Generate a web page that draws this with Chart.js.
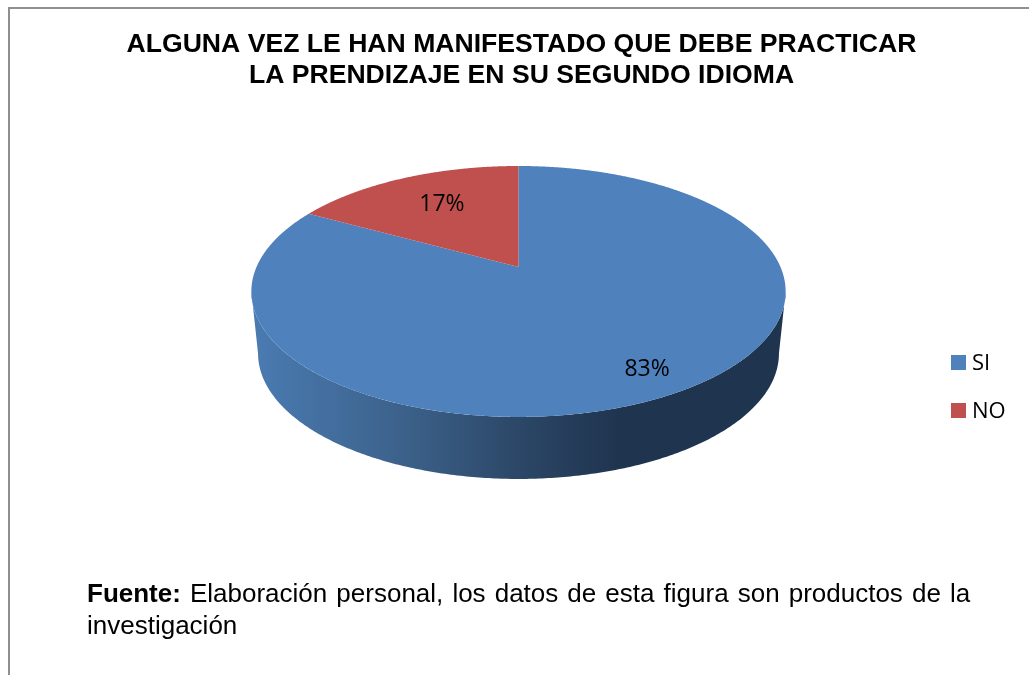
<!DOCTYPE html>
<html lang="es">
<head>
<meta charset="utf-8">
<title>Gráfico</title>
<script src="https://cdn.jsdelivr.net/npm/chart.js@4"></script>
<style>
html,body{margin:0;padding:0;background:#fff;overflow:hidden}
#wrap{position:relative;width:1029px;height:675px;overflow:hidden}
#frame{position:absolute;left:8px;top:7px;width:1100px;height:700px;border-left:2px solid #8f8f8f;border-top:2px solid #8f8f8f}
canvas{position:absolute;left:0;top:0}
.src{position:absolute;left:87px;font:26px "Liberation Sans",Arial,sans-serif;color:#000;white-space:nowrap;line-height:32px}
</style>
</head>
<body>
<div id="wrap">
  <div id="frame"></div>
  <canvas id="c" width="1029" height="675"></canvas>
  <div class="src" id="l1" style="top:577px;word-spacing:1.85px"><b>Fuente:</b> Elaboración personal, los datos de esta figura son productos de la</div>
  <div class="src" id="l2" style="top:609px">investigación</div>
</div>
<script>
const categories = ["SI", "NO"];
const values = [83, 17];
const sliceColors = ["#4F81BD", "#C0504D"];
const titleLines = ["ALGUNA VEZ LE HAN MANIFESTADO QUE DEBE PRACTICAR", "LA PRENDIZAJE EN SU SEGUNDO IDIOMA"];

// projective view of the pie disc, and label placement
const view = {cx: 518.5, cy: 267, R: 262, B: 120.7, k: 0.195, depth: 62, shrink: 0.975};
const labelPlace = [{r: 0.83, dy: 2}, {r: 0.635, dy: -3}];
const legendBox = {x: 951, y: 355, size: 15, step: 48, textX: 972, font: '22px "Open Sans"'};

function project(a, r) {
  const u = r * Math.cos(a), v = r * Math.sin(a), w = 1 - view.k * v;
  return {x: view.cx + view.R * u / w, y: view.cy + view.B * v / w};
}

const pie3d = {
  id: 'pie3d',
  afterLayout(chart) {
    const t = chart.titleBlock;
    t.left += 7; t.right += 7;
  },
  beforeDatasetsDraw(chart) {
    const ctx = chart.ctx;
    const arcs = chart.getDatasetMeta(0).data;
    // side wall, only the near half of the rim is visible
    const lim = Math.asin(view.k);
    const grad = ctx.createLinearGradient(252, 0, 785, 0);
    grad.addColorStop(0, '#4A7BB2');
    grad.addColorStop(0.28, '#3C628B');
    grad.addColorStop(0.5, '#2C4767');
    grad.addColorStop(0.69, '#1F344F');
    grad.addColorStop(1, '#1F344F');
    arcs.forEach(arc => {
      const a0 = Math.max(arc.startAngle, lim), a1 = Math.min(arc.endAngle, Math.PI - lim);
      if (a1 <= a0) return;
      const top = [], low = [];
      for (let a = a0; a < a1; a += 0.01) top.push(project(a, 1));
      top.push(project(a1, 1));
      top.forEach(p => low.push({x: view.cx + (p.x - view.cx) * view.shrink, y: p.y + view.depth}));
      ctx.beginPath();
      top.forEach((p, i) => i ? ctx.lineTo(p.x, p.y) : ctx.moveTo(p.x, p.y));
      low.reverse().forEach(p => ctx.lineTo(p.x, p.y));
      ctx.closePath();
      ctx.fillStyle = grad;
      ctx.fill();
    });
    // top face
    arcs.forEach((arc, i) => {
      ctx.beginPath();
      ctx.moveTo(view.cx, view.cy);
      for (let a = arc.startAngle; a < arc.endAngle; a += 0.005) {
        const p = project(a, 1); ctx.lineTo(p.x, p.y);
      }
      const e = project(arc.endAngle, 1); ctx.lineTo(e.x, e.y);
      ctx.closePath();
      ctx.fillStyle = sliceColors[i];
      ctx.fill();
    });
    // value labels
    ctx.fillStyle = '#000';
    ctx.font = '23px "Open Sans"';
    ctx.textAlign = 'center';
    ctx.textBaseline = 'middle';
    arcs.forEach((arc, i) => {
      const p = project((arc.startAngle + arc.endAngle) / 2, labelPlace[i].r);
      ctx.fillText(values[i] + '%', p.x, p.y + labelPlace[i].dy);
    });
    // legend
    ctx.textAlign = 'left';
    ctx.textBaseline = 'alphabetic';
    ctx.font = legendBox.font;
    categories.forEach((name, i) => {
      const y = legendBox.y + i * legendBox.step;
      ctx.fillStyle = sliceColors[i];
      ctx.fillRect(legendBox.x, y, legendBox.size, legendBox.size);
      ctx.fillStyle = '#000';
      ctx.fillText(name, legendBox.textX, y + legendBox.size);
    });
    return false;
  }
};

new Chart(document.getElementById('c'), {
  type: 'pie',
  data: {labels: categories, datasets: [{data: values, backgroundColor: sliceColors, borderWidth: 0}]},
  plugins: [pie3d],
  options: {
    responsive: false,
    animation: false,
    layout: {padding: 0},
    plugins: {
      title: {display: true, text: titleLines, color: '#000', align: 'center',
        font: {family: '"Liberation Sans"', size: 26.6, weight: 'bold', lineHeight: 1.165},
        padding: {top: 29, bottom: 10}},
      legend: {display: false},
      tooltip: {enabled: false}
    }
  }
});
</script>
</body>
</html>
